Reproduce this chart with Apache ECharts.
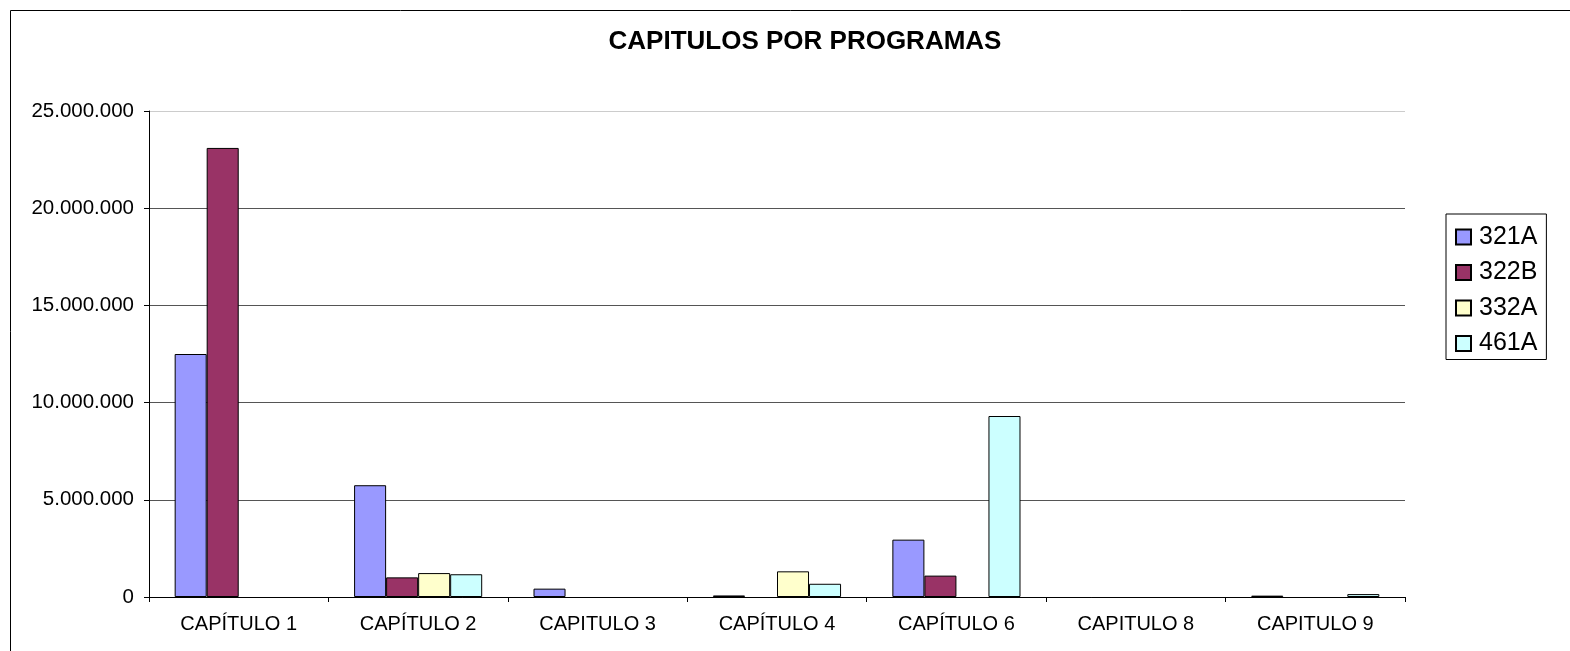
<!DOCTYPE html>
<html><head><meta charset="utf-8">
<script src="https://cdn.jsdelivr.net/npm/echarts@6/dist/echarts.min.js"></script>
<style>html,body{margin:0;padding:0;background:#fff}#c{width:1570px;height:651px}</style>
</head><body><div id="c"></div>
<script>
const categories = ['CAPÍTULO 1','CAPÍTULO 2','CAPITULO 3','CAPÍTULO 4','CAPÍTULO 6','CAPITULO 8','CAPITULO 9'];
const s321A = [12500000, 5750000, 430000, 80000, 2950000, null, 70000];
const s322B = [23100000, 1010000, null, null, 1100000, null, null];
const s332A = [null, 1230000, null, 1320000, null, null, null];
const s461A = [null, 1170000, null, 680000, 9310000, null, 150000];
const yTicks = [0, 5000000, 10000000, 15000000, 20000000, 25000000];

const font = 'Liberation Sans, Arial, sans-serif';
function fmt(v){ return String(v).replace(/\B(?=(\d{3})+(?!\d))/g, '.'); }
function mk(name, data, color){
  return {name, type:'bar', data, barGap:'0%', barCategoryGap:'28.6%',
    itemStyle:{color, borderColor:'#000', borderWidth:1}};
}
const chart = echarts.init(document.getElementById('c'));
chart.setOption({
  animation:false,
  textStyle:{fontFamily:font},
  title:{text:'CAPITULOS POR PROGRAMAS', left:800, textAlign:'center', top:24,
    textStyle:{fontFamily:font, fontSize:26, fontWeight:'bold', color:'#000'}},
  graphic:[{type:'rect', shape:{x:10.5, y:10.5, width:1600, height:700}, style:{fill:'none', stroke:'#000', lineWidth:1}}],
  grid:{left:149, right:165, top:111, bottom:54},
  legend:{orient:'vertical', left:1446, top:214, padding:[10,9,3,9], itemWidth:15, itemHeight:15, itemGap:9.5,
    borderColor:'#000', borderWidth:1, icon:'rect',
    textStyle:{fontFamily:font, fontSize:25, color:'#000', lineHeight:26, padding:[0,0,0,3]}},
  xAxis:{type:'category', data:categories,
    axisLine:{lineStyle:{color:'#000'}}, axisTick:{show:true, length:5, lineStyle:{color:'#000'}},
    axisLabel:{fontFamily:font, fontSize:20, color:'#000', margin:17}},
  yAxis:{type:'value', min:yTicks[0], max:yTicks[yTicks.length-1], interval:5000000,
    axisLine:{show:true, lineStyle:{color:'#000'}}, axisTick:{show:true, length:5, lineStyle:{color:'#000'}},
    axisLabel:{fontFamily:font, fontSize:20.5, color:'#000', margin:15, formatter:fmt},
    splitLine:{lineStyle:{color:['#555','#555','#555','#555','#555','#ccc']}}},
  series:[mk('321A', s321A, '#9999FF'), mk('322B', s322B, '#993366'), mk('332A', s332A, '#FFFFCC'), mk('461A', s461A, '#CCFFFF')]
});
</script></body></html>
